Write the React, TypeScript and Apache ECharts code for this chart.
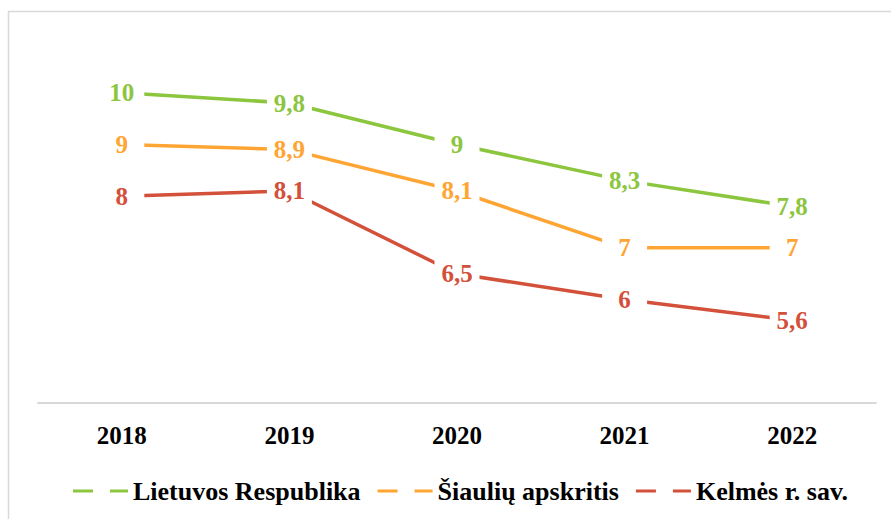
import React, { useEffect, useRef } from "react";
import * as echarts from "echarts";

const years = ["2018", "2019", "2020", "2021", "2022"];
const seriesNames = ["Lietuvos Respublika", "Šiaulių apskritis", "Kelmės r. sav."];
const lietuva = [10, 9.8, 9, 8.3, 7.8];
const siauliai = [9, 8.9, 8.1, 7, 7];
const kelme = [8, 8.1, 6.5, 6, 5.6];
const colors = ["#8CC63F", "#FFA533", "#D3503A"];

const FONT = "Times New Roman, Liberation Serif, serif";

export default function App() {
  const ref = useRef<HTMLDivElement>(null);
  useEffect(() => {
    if (!ref.current) return;
    const chart = echarts.init(ref.current, null, { renderer: "svg" });
    const dataSets = [lietuva, siauliai, kelme];
    chart.setOption({
      animation: false,
      backgroundColor: "#ffffff",
      grid: { left: 38, right: 15, top: 41, bottom: 116, containLabel: false },
      graphic: [
        {
          type: "rect",
          shape: { x: 8.5, y: 11.5, width: 1000, height: 700 },
          style: { fill: "none", stroke: "#d9d9d9", lineWidth: 1.5 },
          silent: true,
          z: -1,
        },
      ],
      legend: {
        left: 68,
        top: 471,
        itemWidth: 55,
        itemHeight: 3,
        itemGap: 17,
        icon: "path://M0,0h20v3H0z M37,0h18v3H37z",
        textStyle: {
          fontFamily: FONT,
          fontSize: 26,
          fontWeight: "bold",
          color: "#000",
          lineHeight: 30,
        },
        data: seriesNames,
      },
      xAxis: {
        type: "category",
        data: years,
        boundaryGap: true,
        axisLine: { show: true, lineStyle: { color: "#d9d9d9", width: 2 } },
        axisTick: { show: false },
        axisLabel: {
          margin: 20,
          fontFamily: FONT,
          fontSize: 25,
          fontWeight: "bold",
          color: "#000",
          lineHeight: 25,
        },
        splitLine: { show: false },
      },
      yAxis: {
        type: "value",
        min: 4,
        max: 11,
        show: false,
        splitLine: { show: false },
      },
      series: seriesNames.map((name, i) => ({
        name,
        type: "line",
        data: dataSets[i],
        symbol: "circle",
        symbolSize: 2,
        itemStyle: { color: colors[i] },
        lineStyle: { color: colors[i], width: 3.5 },
        label: {
          show: true,
          position: "inside",
          formatter: (p: any) => String(p.value).replace(".", ","),
          fontFamily: FONT,
          fontSize: 25,
          fontWeight: "bold",
          color: colors[i],
          backgroundColor: "#ffffff",
          width: 31,
          align: "center",
          padding: [2, 7],
          lineHeight: 26,
        },
      })),
    });
    return () => chart.dispose();
  }, []);
  return (
    <div
      ref={ref}
      style={{ position: "fixed", left: 0, top: 0, width: 891, height: 519 }}
    />
  );
}
